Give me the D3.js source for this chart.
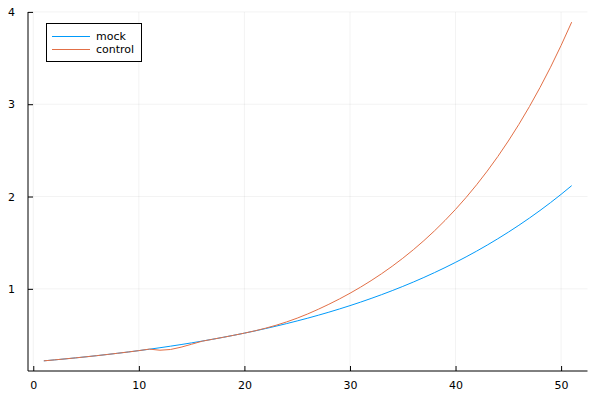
<!DOCTYPE html>
<html>
<head>
<meta charset="utf-8">
<script src="https://cdn.jsdelivr.net/npm/d3@7"></script>
<style>
  html, body { margin: 0; padding: 0; background: #fff; }
  svg { display: block; }
  text { font-family: "DejaVu Sans", sans-serif; font-size: 11px; fill: #000; }
</style>
</head>
<body>
<svg id="chart" width="600" height="400"></svg>
<script>
// ---- data ----
const xValues = d3.range(1, 52);
const mock = [
  0.2200, 0.2302, 0.2409, 0.2520, 0.2637, 0.2759, 0.2887, 0.3021, 0.3161, 0.3307,
  0.3460, 0.3621, 0.3788, 0.3964, 0.4147, 0.4340, 0.4541, 0.4751, 0.4971, 0.5201,
  0.5442, 0.5695, 0.5958, 0.6234, 0.6523, 0.6825, 0.7142, 0.7472, 0.7819, 0.8181,
  0.8560, 0.8957, 0.9372, 0.9806, 1.0260, 1.0735, 1.1233, 1.1753, 1.2298, 1.2867,
  1.3463, 1.4087, 1.4740, 1.5423, 1.6137, 1.6885, 1.7667, 1.8486, 1.9342, 2.0238,
  2.1176
];
const control = [
  0.2200, 0.2302, 0.2409, 0.2520, 0.2637, 0.2759, 0.2887, 0.3021, 0.3161, 0.3307,
  0.3470, 0.3350, 0.3430, 0.3680, 0.4000, 0.4330, 0.4541, 0.4751, 0.4971, 0.5201,
  0.5452, 0.5736, 0.6056, 0.6417, 0.6824, 0.7283, 0.7788, 0.8327, 0.8904, 0.9522,
  1.0181, 1.0887, 1.1642, 1.2448, 1.3311, 1.4234, 1.5220, 1.6275, 1.7403, 1.8609,
  1.9898, 2.1277, 2.2752, 2.4329, 2.6015, 2.7818, 2.9746, 3.1807, 3.4011, 3.6368,
  3.8889
];
const seriesNames = ["mock", "control"];
const seriesColors = ["#009AFA", "#E26F46"];
const xTicks = [0, 10, 20, 30, 40, 50];
const yTicks = [1, 2, 3, 4];

// ---- layout ----
const pLeft = 28, pRight = 587.5, pTop = 12, pBottom = 371;
const svg = d3.select("#chart");

const xExt = d3.extent(xValues);
const xPad = (xExt[1] - xExt[0]) * 0.03;
const allY = mock.concat(control);
const yExt = d3.extent(allY);
const yPad = (yExt[1] - yExt[0]) * 0.03;

const x = d3.scaleLinear().domain([xExt[0] - xPad, xExt[1] + xPad]).range([pLeft, pRight]);
const y = d3.scaleLinear().domain([yExt[0] - yPad, yExt[1] + yPad]).range([pBottom, pTop]);

// grid
const grid = svg.append("g").attr("stroke", "#000").attr("stroke-opacity", 0.1).attr("stroke-width", 0.5);
xTicks.forEach(t => grid.append("line").attr("x1", x(t)).attr("x2", x(t)).attr("y1", pTop).attr("y2", pBottom));
yTicks.forEach(t => grid.append("line").attr("x1", pLeft).attr("x2", pRight).attr("y1", y(t)).attr("y2", y(t)));

// axes
const xAxis = d3.axisBottom(x).tickValues(xTicks).tickSizeInner(-5).tickSizeOuter(0).tickPadding(10).tickFormat(d3.format("d"));
const yAxis = d3.axisLeft(y).tickValues(yTicks).tickSizeInner(-5).tickSizeOuter(0).tickPadding(13).tickFormat(d3.format("d"));

const gx = svg.append("g").attr("transform", `translate(0,${pBottom})`).call(xAxis);
const gy = svg.append("g").attr("transform", `translate(${pLeft},0)`).call(yAxis);
[gx, gy].forEach(g => {
  g.select(".domain").remove();
  g.selectAll(".tick line").attr("stroke", "#000").attr("stroke-width", 1);
  g.selectAll(".tick text").attr("font-family", "DejaVu Sans, sans-serif").attr("font-size", 11).attr("fill", "#000");
});
svg.append("line").attr("x1", pLeft).attr("x2", pRight).attr("y1", pBottom).attr("y2", pBottom).attr("stroke", "#000").attr("stroke-width", 1);
svg.append("line").attr("x1", pLeft).attr("x2", pLeft).attr("y1", pTop).attr("y2", pBottom).attr("stroke", "#000").attr("stroke-width", 1);

// lines
const line = d3.line().x((d, i) => x(xValues[i])).y(d => y(d));
[mock, control].forEach((s, i) => {
  svg.append("path").datum(s).attr("d", line).attr("fill", "none")
    .attr("stroke", seriesColors[i]).attr("stroke-width", 1);
});

// legend
const lg = svg.append("g");
lg.append("rect").attr("x", 46.5).attr("y", 23.5).attr("width", 95).attr("height", 38)
  .attr("fill", "#fff").attr("stroke", "#000").attr("stroke-width", 1);
seriesNames.forEach((n, i) => {
  const yy = 36.5 + i * 13;
  lg.append("line").attr("x1", 52).attr("x2", 90).attr("y1", yy).attr("y2", yy)
    .attr("stroke", seriesColors[i]).attr("stroke-width", 1);
  lg.append("text").attr("x", 96).attr("y", yy).attr("dy", "0.35em").text(n);
});
</script>
</body>
</html>
